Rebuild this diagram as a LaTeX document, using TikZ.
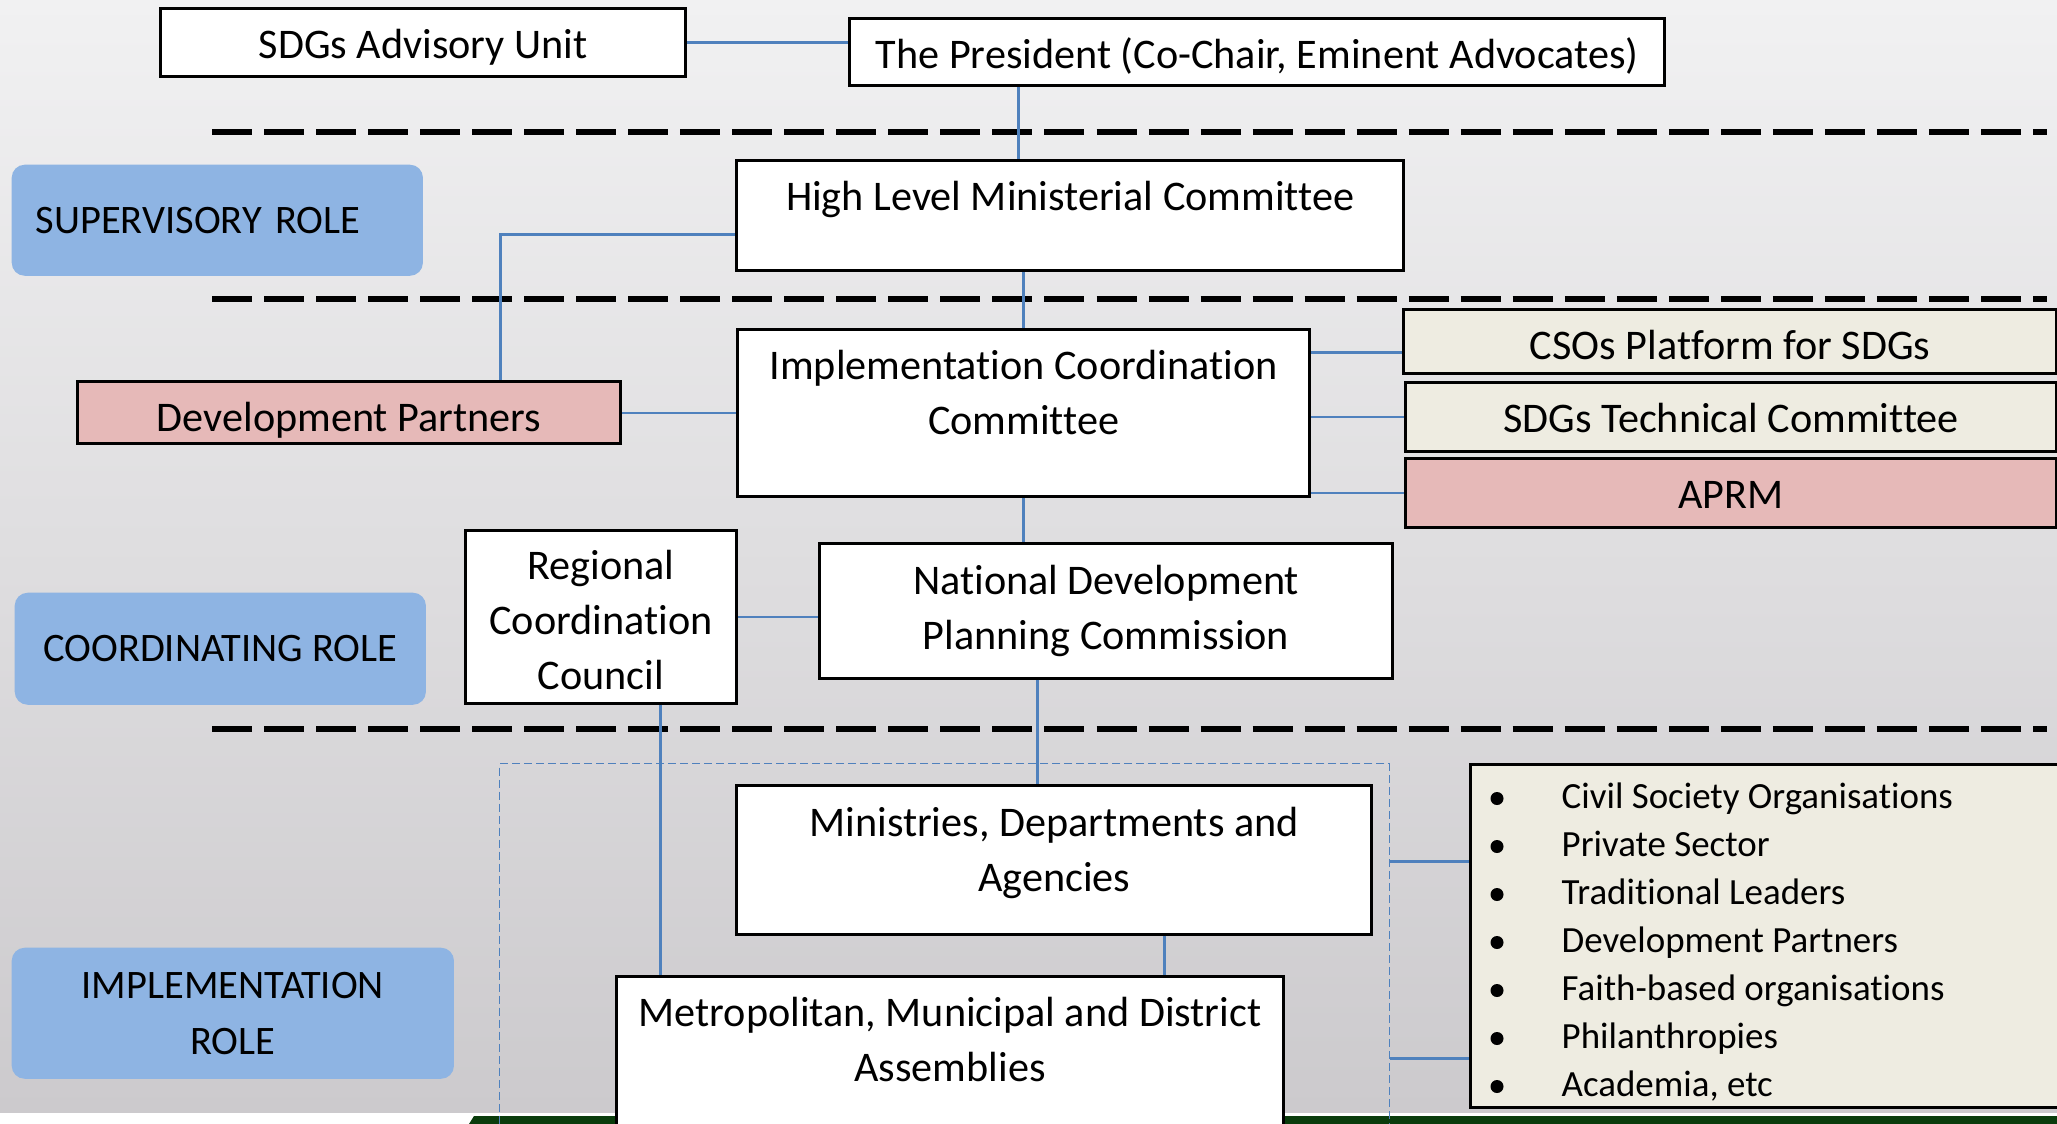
\documentclass[tikz,border=0pt]{standalone}
\usepackage{fontspec}
\setmainfont[Ligatures=NoCommon]{Carlito}
\definecolor{RoleBlue}{HTML}{8EB4E3}
\definecolor{BoxBeige}{HTML}{EEECE1}
\definecolor{BoxPink}{HTML}{E6B9B8}
\definecolor{LinkBlue}{HTML}{4F81BD}
\definecolor{BgTop}{RGB}{241,241,242}
\definecolor{BgBottom}{RGB}{204,202,205}
\definecolor{BarGreen}{RGB}{10,60,12}
\usetikzlibrary{positioning}
\tikzset{
	orgbox/.style={draw=black, line width=0.8pt, fill=white, inner xsep=0pt, inner ysep=0pt,
		anchor=north west, align=center, text height=0.5cm, font=\fontsize{12}{15.65}\selectfont},
	rolebox/.style={fill=RoleBlue, rounded corners=0.13cm, anchor=north west, align=center,
		font=\fontsize{11.5}{15.9}\selectfont},
	link/.style={draw=LinkBlue, line width=0.7pt},
	rolesep/.style={draw=black, line width=1.5pt, dash pattern=on 0.4cm off 0.12cm},
	implzone/.style={draw=LinkBlue, line width=0.4pt, dash pattern=on 0.08cm off 0.04cm, anchor=north west},
	listitem/.style={anchor=base west, inner sep=0pt, font=\fontsize{10.5}{13}\selectfont}
}
\begin{document}
\begin{tikzpicture}[x=0.01cm, y=-0.01cm]
	\useasboundingbox (0,0) rectangle (2057,1124);
	\clip (0,0) rectangle (2057,1124);
	% background and bottom bar
	\shade[top color=BgTop, bottom color=BgBottom] (0,0) rectangle (2057,1112);
	\fill[BarGreen] (474,1116) -- (2057,1116) -- (2057,1124) -- (469,1124) -- cycle;
	% separators between the roles
	\foreach \y in {132,299,729}
		\draw[rolesep] (212,\y) -- (2047,\y);

	\node[rolebox, minimum width=4.11cm, minimum height=1.11cm, inner xsep=0.24cm, text width=3.63cm, align=left] (supervisory) at (11,164) {SUPERVISORY ROLE};
	\node[rolebox, minimum width=4.11cm, minimum height=1.12cm] (coordinating) at (14,592) {COORDINATING ROLE};
	\node[rolebox, minimum width=4.42cm, minimum height=1.31cm] (implementation) at (11,947) {IMPLEMENTATION\\ROLE};

	\node[orgbox, minimum width=5.25cm, text depth=0.18cm] (adv) at (159,7) {SDGs Advisory Unit};
	\node[orgbox, minimum width=8.15cm, text depth=0.17cm] (pres) at (848,17) {The President (Co-Chair, Eminent Advocates)};
	\node[orgbox, minimum width=6.67cm, text depth=0.60cm] (hlmc) at (735,159) {High Level Ministerial Committee};
	\node[orgbox, minimum width=5.72cm, text height=1.05cm, text depth=0.62cm] (icc) at (736,328) {Implementation Coordination\\Committee};
	\node[orgbox, fill=BoxPink, minimum width=5.43cm, text depth=0.12cm] (dp) at (76,380) {Development Partners};
	\node[orgbox, fill=BoxBeige, minimum width=6.53cm, text depth=0.14cm] (cso) at (1402,308) {CSOs Platform for SDGs};
	\node[orgbox, fill=BoxBeige, minimum width=6.51cm, text depth=0.19cm] (tc) at (1404,381) {SDGs Technical Committee};
	\node[orgbox, fill=BoxPink, minimum width=6.51cm, text depth=0.19cm] (aprm) at (1404,457) {APRM};
	\node[orgbox, minimum width=2.71cm, text height=1.59cm, text depth=0.14cm] (rcc) at (464,529) {Regional\\Coordination\\Council};
	\node[orgbox, minimum width=5.73cm, text height=1.06cm, text depth=0.29cm] (ndpc) at (818,542) {National Development\\Planning Commission};

	% implementation zone
	\node[implzone, minimum width=8.89cm, minimum height=4.5cm] (implframe) at (499,763) {};
	\node[orgbox, minimum width=6.35cm, text height=1.06cm, text depth=0.43cm] (mda) at (735,784) {Ministries, Departments and\\Agencies};
	\node[orgbox, minimum width=6.67cm, text height=1.05cm, text depth=0.95cm] (mmda) at (615,975) {Metropolitan, Municipal and District\\Assemblies};
	\node[orgbox, fill=BoxBeige, minimum width=5.9cm, minimum height=3.43cm] (partners) at (1469,763) {};
	\foreach \txt [count=\i] in {Civil Society Organisations, Private Sector, Traditional Leaders, Development Partners, Faith-based organisations, Philanthropies, {Academia, etc}} {
		\node[listitem] (item\i) at (1561,{808+48*(\i-1)}) {\txt};
		\fill (1497,{798.5+48*(\i-1)}) circle[radius=0.065cm];
	}

	% connectors
	\draw[link] (adv.east) -- (adv.east -| pres.west);
	\coordinate (p1) at ([xshift=-2.385cm]pres.south);
	\draw[link] (p1) -- (p1 |- hlmc.north);
	\draw[link] (icc.north) -- (icc.north |- hlmc.south);
	\coordinate (h1) at ([yshift=-0.19cm]hlmc.west);
	\draw[link] (h1) -| ([xshift=1.515cm]dp.north);
	\draw[link] (icc.west) -- (icc.west -| dp.east);
	\coordinate (c1) at ([yshift=-0.11cm]cso.west);
	\draw[link] (c1) -- (c1 -| icc.east);
	\draw[link] (tc.west) -- (tc.west -| icc.east);
	\draw[link] (aprm.west) -- (aprm.west -| icc.east);
	\draw[link] (icc.south) -- (icc.south |- ndpc.north);
	\draw[link] (rcc.east) -- (rcc.east -| ndpc.west);
	\coordinate (n1) at ([xshift=-0.685cm]ndpc.south);
	\draw[link] (n1) -- (n1 |- mda.north);
	\coordinate (r1) at ([xshift=0.595cm]rcc.south);
	\draw[link] (r1) -- (r1 |- mmda.north);
	\coordinate (m1) at ([xshift=1.105cm]mda.south);
	\draw[link] (m1) -- (m1 |- mmda.north);
	\coordinate (q1) at ([yshift=0.745cm]partners.west);
	\coordinate (q2) at ([yshift=-1.225cm]partners.west);
	\draw[link] (q1 -| implframe.east) -- (q1);
	\draw[link] (q2 -| implframe.east) -- (q2);
\end{tikzpicture}
\end{document}
